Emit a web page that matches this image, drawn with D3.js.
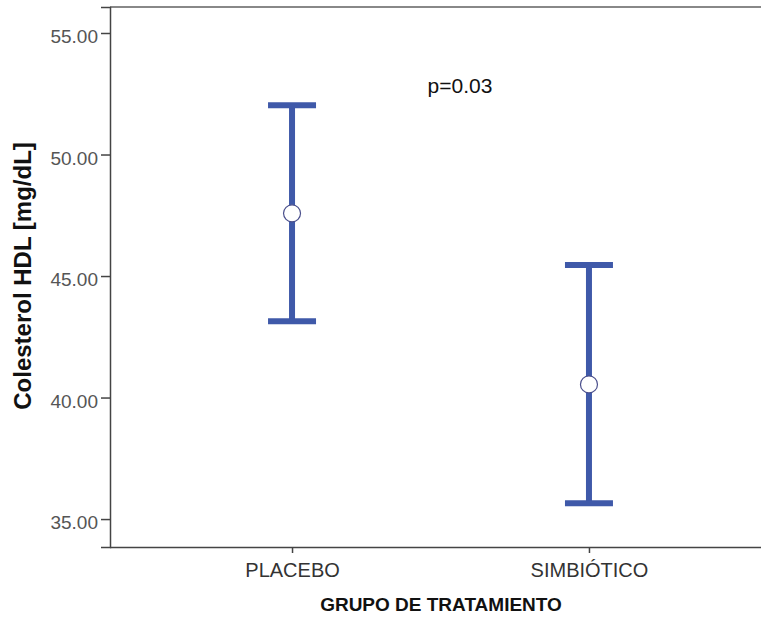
<!DOCTYPE html>
<html>
<head>
<meta charset="utf-8">
<script src="https://cdn.jsdelivr.net/npm/d3@7"></script>
<style>
  body { margin: 0; background: #fff; }
  text { font-family: "Liberation Sans", Arial, sans-serif; }
</style>
</head>
<body>
<svg id="chart" width="761" height="617"></svg>
<script>
const groups = ['PLACEBO', 'SIMBIÓTICO'];
const means = [47.58, 40.54];
const upper = [52.03, 45.45];
const lower = [43.14, 35.65];
const yTicks = [35, 40, 45, 50, 55];

const svg = d3.select('#chart');
const plotL = 110, plotR = 771, plotT = 7, plotB = 547;

const y = d3.scaleLinear().domain([33.85, 56.07]).range([plotB, plotT]);
const x = d3.scalePoint().domain(groups).range([plotL, plotR]).padding(0.613);

// frame
svg.append('line').attr('x1', plotL).attr('x2', 761).attr('y1', plotT).attr('y2', plotT)
  .attr('stroke', '#888').attr('stroke-width', 2);

const yAxis = svg.append('g').attr('transform', `translate(${plotL},0)`)
  .call(d3.axisLeft(y).tickValues(yTicks).tickFormat(d3.format('.2f')).tickSize(9).tickPadding(3));
yAxis.select('.domain').attr('stroke', '#444').attr('stroke-width', 1.5);
yAxis.selectAll('.tick line').attr('stroke', '#444').attr('stroke-width', 1.5);
yAxis.selectAll('.tick text').attr('fill', '#555').attr('font-size', 19).attr('dy', '0.5em');

const xAxis = svg.append('g').attr('transform', `translate(0,${plotB})`)
  .call(d3.axisBottom(x).tickSize(6).tickPadding(10).tickSizeOuter(0));
xAxis.select('.domain').attr('d', `M${plotL},0.5H761`).attr('stroke', '#444').attr('stroke-width', 1.5);
xAxis.selectAll('.tick line').attr('stroke', '#444').attr('stroke-width', 1.5);
xAxis.selectAll('.tick text').attr('fill', '#333').attr('font-size', 20);

const blue = '#3f59a9';
const capW = 24;
const bars = svg.append('g');
groups.forEach((g, i) => {
  const cx = x(g);
  bars.append('line').attr('x1', cx).attr('x2', cx).attr('y1', y(upper[i])).attr('y2', y(lower[i]))
    .attr('stroke', blue).attr('stroke-width', 6);
  [upper[i], lower[i]].forEach(v => {
    bars.append('line').attr('x1', cx - capW).attr('x2', cx + capW).attr('y1', y(v)).attr('y2', y(v))
      .attr('stroke', blue).attr('stroke-width', 6);
  });
  bars.append('circle').attr('cx', cx).attr('cy', y(means[i])).attr('r', 8.5)
    .attr('fill', '#fff').attr('stroke', '#4a4f8c').attr('stroke-width', 1.2);
});

svg.append('text').attr('x', 460).attr('y', 93).attr('text-anchor', 'middle')
  .attr('font-size', 21).attr('fill', '#111').text('p=0.03');

svg.append('text').attr('x', 441).attr('y', 611).attr('text-anchor', 'middle')
  .attr('font-size', 19).attr('font-weight', 'bold').attr('fill', '#111').text('GRUPO DE TRATAMIENTO');

svg.append('text').attr('transform', 'translate(31,276) rotate(-90)').attr('text-anchor', 'middle')
  .attr('font-size', 24).attr('font-weight', 'bold').attr('fill', '#111').text('Colesterol HDL [mg/dL]');
</script>
</body>
</html>
